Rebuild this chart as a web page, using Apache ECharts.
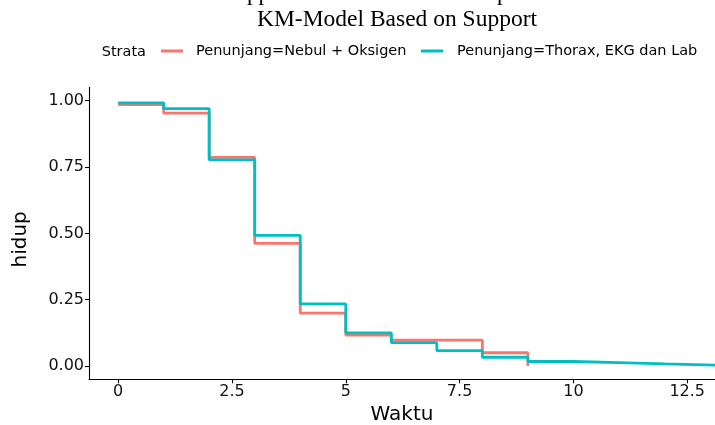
<!DOCTYPE html>
<html>
<head>
<meta charset="utf-8">
<script src="https://cdn.jsdelivr.net/npm/echarts@6/dist/echarts.min.js"></script>
<style>
html,body{margin:0;padding:0;background:#fff;}
#chart{width:715px;height:425px;}
</style>
</head>
<body>
<div id="chart"></div>
<script>
// ---- data ----
const seriesNames = ["Penunjang=Nebul + Oksigen", "Penunjang=Thorax, EKG dan Lab"];
const timesNebul = [0, 1, 2, 3, 4, 5, 6, 7, 8, 9];
const survNebul  = [0.985, 0.953, 0.786, 0.462, 0.199, 0.117, 0.098, 0.098, 0.050, 0.000];
const timesThorax = [0, 1, 2, 3, 4, 5, 6, 7, 8, 9, 10, 11, 12, 13.2];
const survThorax  = [0.992, 0.970, 0.777, 0.492, 0.234, 0.125, 0.088, 0.058, 0.033, 0.017, 0.013, 0.008, 0.003, 0.003];
const xTicks = [0, 2.5, 5, 7.5, 10, 12.5];
const yTicks = [0, 0.25, 0.5, 0.75, 1];
const titleText = "KM-Model Based on Support";
const xTitle = "Waktu";
const yTitle = "hidup";
const legendTitle = "Strata";

const colors = ["#F8766D", "#00BFC4"];
const sans = "DejaVu Sans";

const chart = echarts.init(document.getElementById('chart'), null, {renderer: 'canvas'});

function pairs(t, s){ return t.map((v,i)=>[v, s[i]]); }

const option = {
  animation: false,
  backgroundColor: '#ffffff',
  grid: {left: 89, right: 0, top: 87.4, bottom: 45.7, containLabel: false, outerBoundsMode: 'none'},
  graphic: [
    {type:'text', x: 397, y: 20, style:{text: titleText, font: '23.5px "Liberation Serif"', fill:'#000', textAlign:'center', textVerticalAlign:'middle'}},
    {type:'text', x: 247, y: 5, style:{text: 'pp', font: '23px "Liberation Serif"', fill:'#000', textAlign:'left', textVerticalAlign:'bottom'}},
    {type:'text', x: 497, y: 5, style:{text: 'p', font: '23px "Liberation Serif"', fill:'#000', textAlign:'left', textVerticalAlign:'bottom'}},
    {type:'text', x: 101.7, y: 52, style:{text: legendTitle, font: '14.5px "DejaVu Sans"', fill:'#000', textAlign:'left', textVerticalAlign:'middle'}}
  ],
  legend: [
    {data:[seriesNames[0]], left: 161, top: 43.5, padding: 0, icon: 'rect', itemWidth: 22, itemHeight: 3,
     textStyle:{fontFamily: sans, fontSize: 14.5, color:'#000', padding:[0,0,0,8]}},
    {data:[seriesNames[1]], left: 421, top: 43.5, padding: 0, icon: 'rect', itemWidth: 22, itemHeight: 3,
     textStyle:{fontFamily: sans, fontSize: 14.5, color:'#000', padding:[0,0,0,9]}}
  ],
  xAxis: {
    type: 'value', min: -0.64, max: 13.11,
    name: xTitle, nameLocation: 'middle', nameGap: 21,
    nameTextStyle: {fontFamily: sans, fontSize: 20, color:'#000'},
    axisLine: {show: true, onZero: false, lineStyle:{color:'#000', width:1.1}},
    axisTick: {show: true, length: 4, customValues: xTicks, lineStyle:{color:'#000', width:1.1}},
    axisLabel: {customValues: xTicks, fontFamily: sans, fontSize: 16, color:'#111', margin: 5,
      formatter: v => String(v)},
    splitLine: {show: false}
  },
  yAxis: {
    type: 'value', min: -0.05, max: 1.05,
    name: yTitle, nameLocation: 'middle', nameGap: 58, nameRotate: 90,
    nameTextStyle: {fontFamily: sans, fontSize: 20, color:'#000', padding:[0,12,0,0]},
    axisLine: {show: true, onZero: false, lineStyle:{color:'#000', width:1.1}},
    axisTick: {show: true, length: 4, customValues: yTicks, lineStyle:{color:'#000', width:1.1}},
    axisLabel: {customValues: yTicks, fontFamily: sans, fontSize: 16, color:'#111', margin: 5,
      formatter: v => v.toFixed(2)},
    splitLine: {show: false}
  },
  series: [
    {name: seriesNames[0], type:'line', step:'end', data: pairs(timesNebul, survNebul),
     showSymbol:false, symbol:'none', lineStyle:{color: colors[0], width: 2.8}, itemStyle:{color: colors[0]}, clip:true},
    {name: seriesNames[1], type:'line', step:'end', data: pairs(timesThorax, survThorax),
     showSymbol:false, symbol:'none', lineStyle:{color: colors[1], width: 2.8}, itemStyle:{color: colors[1]}, clip:true}
  ]
};
chart.setOption(option);
</script>
</body>
</html>
